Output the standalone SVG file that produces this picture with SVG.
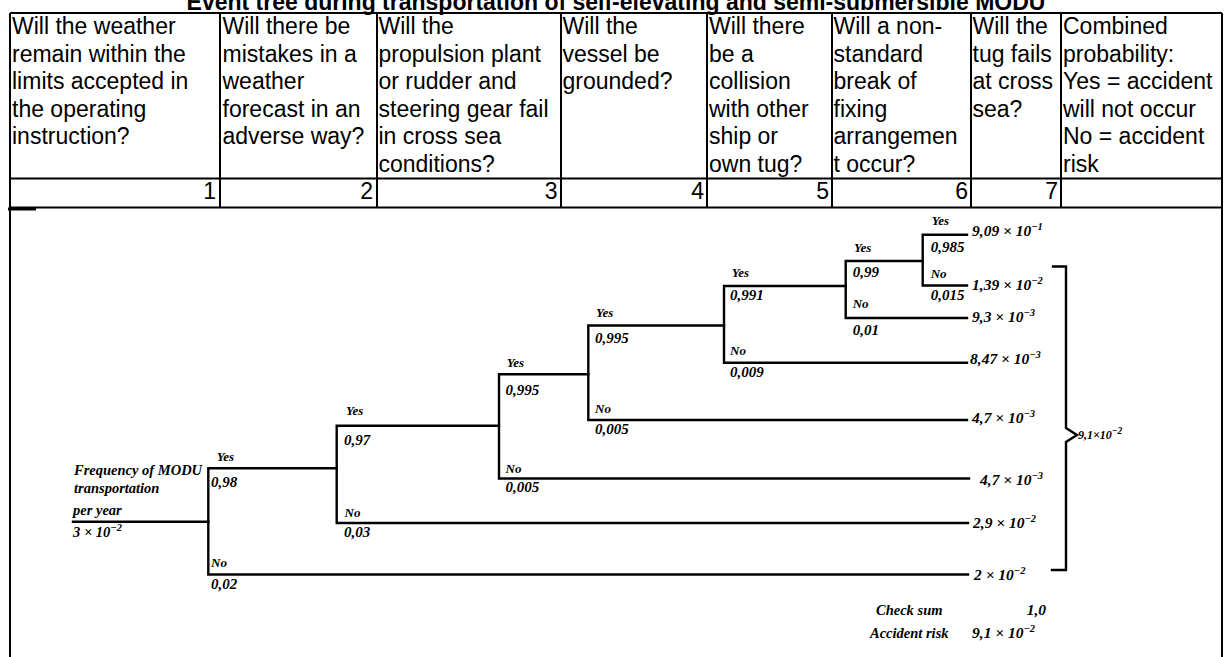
<svg xmlns="http://www.w3.org/2000/svg" width="1224" height="657" viewBox="0 0 1224 657">
<style>
.ttl{font-family:"Liberation Sans",Arial,sans-serif;font-size:23px;font-weight:bold;fill:#000}
.h{font-family:"Liberation Sans",Arial,sans-serif;font-size:23px;fill:#000}
.num{font-family:"Liberation Sans",Arial,sans-serif;font-size:23px;fill:#000;text-anchor:end}
.grid{stroke:#000;stroke-width:2;fill:none}
.br{stroke:#000;stroke-width:2.4;fill:none;stroke-linecap:square}
.v{font-family:"Liberation Serif","Times New Roman",serif;font-style:italic;font-weight:bold;font-size:15px;fill:#000}
.e{font-family:"Liberation Serif","Times New Roman",serif;font-style:italic;font-weight:bold;font-size:15.5px;fill:#000}
.yn{font-family:"Liberation Serif","Times New Roman",serif;font-style:italic;font-weight:bold;font-size:13px;fill:#000}
.lb{font-family:"Liberation Serif","Times New Roman",serif;font-style:italic;font-weight:bold;font-size:14.5px;fill:#000}
.sm{font-family:"Liberation Serif","Times New Roman",serif;font-style:italic;font-weight:bold;font-size:12px;fill:#000}
.sup{font-size:10.5px}
</style>
<rect x="0" y="0" width="1224" height="657" fill="#fff"/>
<text class="ttl" x="616" y="10" text-anchor="middle">Event tree during transportation of self-elevating and semi-submersible MODU</text>

<g id="table">
<path class="grid" d="M10,13H1222M10,178.5H1222M10,207.5H1222M10,13V657M220,13V207.5M377,13V207.5M561,13V207.5M707,13V207.5M832,13V207.5M971,13V207.5M1061,13V207.5M1222,13V657"/>
<path d="M8,209H36" stroke="#000" stroke-width="3"/>
<g id="col1"><text class="h" x="12" y="34.3">Will the weather</text><text class="h" x="12" y="61.7">remain within the</text><text class="h" x="12" y="89.3">limits accepted in</text><text class="h" x="12" y="116.7">the operating</text><text class="h" x="12" y="144.3">instruction?</text><text class="num" x="216" y="199">1</text></g>
<g id="col2"><text class="h" x="222.5" y="34.3">Will there be</text><text class="h" x="222.5" y="61.7">mistakes in a</text><text class="h" x="222.5" y="89.3">weather</text><text class="h" x="222.5" y="116.7">forecast in an</text><text class="h" x="222.5" y="144.3">adverse way?</text><text class="num" x="373" y="199">2</text></g>
<g id="col3"><text class="h" x="378.5" y="34.3">Will the</text><text class="h" x="378.5" y="61.7">propulsion plant</text><text class="h" x="378.5" y="89.3">or rudder and</text><text class="h" x="378.5" y="116.7">steering gear fail</text><text class="h" x="378.5" y="144.3">in cross sea</text><text class="h" x="378.5" y="171.7">conditions?</text><text class="num" x="557.5" y="199">3</text></g>
<g id="col4"><text class="h" x="562.5" y="34.3">Will the</text><text class="h" x="562.5" y="61.7">vessel be</text><text class="h" x="562.5" y="89.3">grounded?</text><text class="num" x="704" y="199">4</text></g>
<g id="col5"><text class="h" x="709" y="34.3">Will there</text><text class="h" x="709" y="61.7">be a</text><text class="h" x="709" y="89.3">collision</text><text class="h" x="709" y="116.7">with other</text><text class="h" x="709" y="144.3">ship or</text><text class="h" x="709" y="171.7">own tug?</text><text class="num" x="829" y="199">5</text></g>
<g id="col6"><text class="h" x="833.5" y="34.3">Will a non-</text><text class="h" x="833.5" y="61.7">standard</text><text class="h" x="833.5" y="89.3">break of</text><text class="h" x="833.5" y="116.7">fixing</text><text class="h" x="833.5" y="144.3">arrangemen</text><text class="h" x="833.5" y="171.7">t occur?</text><text class="num" x="968" y="199">6</text></g>
<g id="col7"><text class="h" x="972.5" y="34.3">Will the</text><text class="h" x="972.5" y="61.7">tug fails</text><text class="h" x="972.5" y="89.3">at cross</text><text class="h" x="972.5" y="116.7">sea?</text><text class="num" x="1058" y="199">7</text></g>
<g id="col8"><text class="h" x="1063" y="34.3">Combined</text><text class="h" x="1063" y="61.7">probability:</text><text class="h" x="1063" y="89.3">Yes = accident</text><text class="h" x="1063" y="116.7">will not occur</text><text class="h" x="1063" y="144.3">No = accident</text><text class="h" x="1063" y="171.7">risk</text></g>
</g>

<g id="connectors">
<path class="br" d="M73,521.7H208.3"/>
<path class="br" d="M208.3,468.3V574.5M208.3,468.3H336.7M208.3,574.5H968"/>
<path class="br" d="M336.7,425.7V523M336.7,425.7H499M336.7,523H968"/>
<path class="br" d="M499,374.3V478.5M499,374.3H588.3M499,478.5H969"/>
<path class="br" d="M588.3,325.5V420M588.3,325.5H724M588.3,420H967"/>
<path class="br" d="M724,286V362.7M724,286H845.7M724,362.7H967"/>
<path class="br" d="M845.7,261V318M845.7,261H922.7M845.7,318H967"/>
<path class="br" d="M922.7,234.7V285.5M922.7,234.7H967M922.7,285.5H967"/>
<path class="br" d="M1053,266.5H1066V428L1077,435L1066,442V570H1052"/>
</g>

<g id="root">
<text class="lb" x="74" y="475">Frequency of MODU</text>
<text class="lb" x="74" y="493">transportation</text>
<text class="lb" x="73" y="515">per year</text>
<text class="lb" x="73" y="537">3 × 10<tspan class="sup" dy="-6">−2</tspan></text>
</g>
<g id="node1">
<text class="yn" x="216.7" y="460.7">Yes</text><text class="v" x="211" y="486.7">0,98</text>
<text class="yn" x="211" y="567.3">No</text><text class="v" x="211" y="589.3">0,02</text>
</g>
<g id="node2">
<text class="yn" x="346" y="415">Yes</text><text class="v" x="344" y="445">0,97</text>
<text class="yn" x="344.5" y="516.7">No</text><text class="v" x="344" y="536.7">0,03</text>
</g>
<g id="node3">
<text class="yn" x="506.7" y="366.7">Yes</text><text class="v" x="505.5" y="395">0,995</text>
<text class="yn" x="505.5" y="472.7">No</text><text class="v" x="505.5" y="491.7">0,005</text>
</g>
<g id="node4">
<text class="yn" x="596" y="316.5">Yes</text><text class="v" x="595" y="343.3">0,995</text>
<text class="yn" x="595" y="413.3">No</text><text class="v" x="595" y="434">0,005</text>
</g>
<g id="node5">
<text class="yn" x="731.7" y="276.7">Yes</text><text class="v" x="730" y="300">0,991</text>
<text class="yn" x="730" y="355">No</text><text class="v" x="730" y="376.7">0,009</text>
</g>
<g id="node6">
<text class="yn" x="854" y="251.7">Yes</text><text class="v" x="852.7" y="276.7">0,99</text>
<text class="yn" x="852.7" y="308.3">No</text><text class="v" x="852.7" y="335">0,01</text>
</g>
<g id="node7">
<text class="yn" x="931.7" y="225">Yes</text><text class="v" x="930.7" y="251.7">0,985</text>
<text class="yn" x="930.7" y="278.3">No</text><text class="v" x="930.7" y="300">0,015</text>
</g>
<g id="outcomes">
<text class="e" x="972" y="236">9,09 × 10<tspan class="sup" dy="-6">−1</tspan></text>
<text class="e" x="972" y="290">1,39 × 10<tspan class="sup" dy="-6">−2</tspan></text>
<text class="e" x="972" y="321.7">9,3 × 10<tspan class="sup" dy="-6">−3</tspan></text>
<text class="e" x="970" y="363.5">8,47 × 10<tspan class="sup" dy="-6">−3</tspan></text>
<text class="e" x="972" y="423">4,7 × 10<tspan class="sup" dy="-6">−3</tspan></text>
<text class="e" x="980" y="485">4,7 × 10<tspan class="sup" dy="-6">−3</tspan></text>
<text class="e" x="973" y="528">2,9 × 10<tspan class="sup" dy="-6">−2</tspan></text>
<text class="e" x="974" y="580">2 × 10<tspan class="sup" dy="-6">−2</tspan></text>
</g>
<g id="sum">
<text class="sm" x="1078" y="439">9,1×10<tspan dy="-5" font-size="9.5">−2</tspan></text>
<text class="lb" x="876" y="615">Check sum</text>
<text class="e" x="1046" y="615" text-anchor="end">1,0</text>
<text class="lb" x="870" y="638.3">Accident risk</text>
<text class="e" x="972" y="638.3">9,1 × 10<tspan class="sup" dy="-6">−2</tspan></text>
</g>
</svg>
